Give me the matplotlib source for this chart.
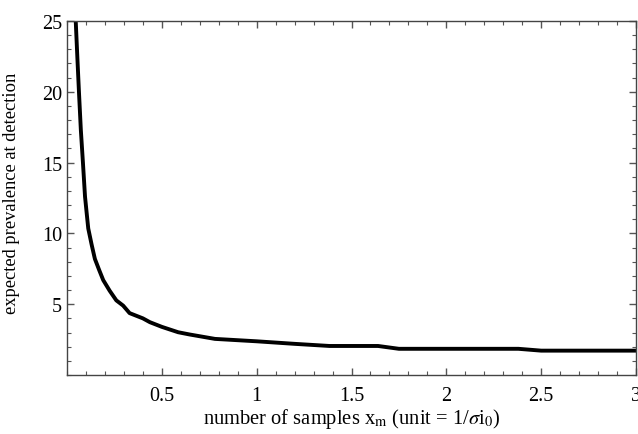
import matplotlib
matplotlib.use("Agg")
import matplotlib.pyplot as plt
from matplotlib.ticker import MultipleLocator, FuncFormatter

plt.rcParams['font.family'] = ['Liberation Serif', 'DejaVu Serif']
plt.rcParams['mathtext.fontset'] = 'stix'

# curve
xm = [0.046, 0.055, 0.063, 0.073, 0.084, 0.095, 0.104, 0.112, 0.130, 0.147,
      0.170, 0.191, 0.225, 0.260, 0.296, 0.330, 0.400, 0.437, 0.500, 0.586,
      0.647, 0.780, 1.000, 1.200, 1.384, 1.640, 1.750, 2.380, 2.500, 3.000]
prevalence = [25.0, 22.3, 20.0, 17.3, 15.0, 12.6, 11.4, 10.35, 9.2, 8.2,
              7.4, 6.7, 5.95, 5.27, 4.9, 4.37, 4.0, 3.73, 3.4, 3.02,
              2.86, 2.55, 2.38, 2.2, 2.05, 2.05, 1.85, 1.85, 1.72, 1.72]

fig = plt.figure(figsize=(6.38, 4.35), dpi=100)
ax = fig.add_axes([67/638, 59/435, 569/638, 354/435])

ax.plot(xm, prevalence, color='black', lw=2.8, solid_joinstyle='round')

ax.set_xlim(0, 3)
ax.set_ylim(0, 25)
ax.set_xticks([0.5, 1, 1.5, 2, 2.5, 3])
ax.set_yticks([5, 10, 15, 20, 25])
ax.xaxis.set_minor_locator(MultipleLocator(0.1))
ax.yaxis.set_minor_locator(MultipleLocator(1))
fmt = FuncFormatter(lambda v, p: ('%g' % v))
ax.xaxis.set_major_formatter(fmt)
ax.yaxis.set_major_formatter(fmt)

ax.tick_params(which='both', direction='in', top=True, right=True,
               color='#555555', labelsize=14.5)
ax.tick_params(which='major', length=5, width=1)
ax.tick_params(which='minor', length=3, width=0.8)
ax.tick_params(axis='x', pad=8)
for s in ax.spines.values():
    s.set_color('#444444')
    s.set_linewidth(1)

ax.set_xlabel(r'number of samples x$_{\rm m}$ (unit = 1/$\sigma$i$_0$)', fontsize=14.8, labelpad=1)
ax.set_ylabel('expected prevalence at detection', fontsize=13.3)
ax.yaxis.set_label_coords(-0.082, 0.515)

fig.savefig('out.png', dpi=100)
